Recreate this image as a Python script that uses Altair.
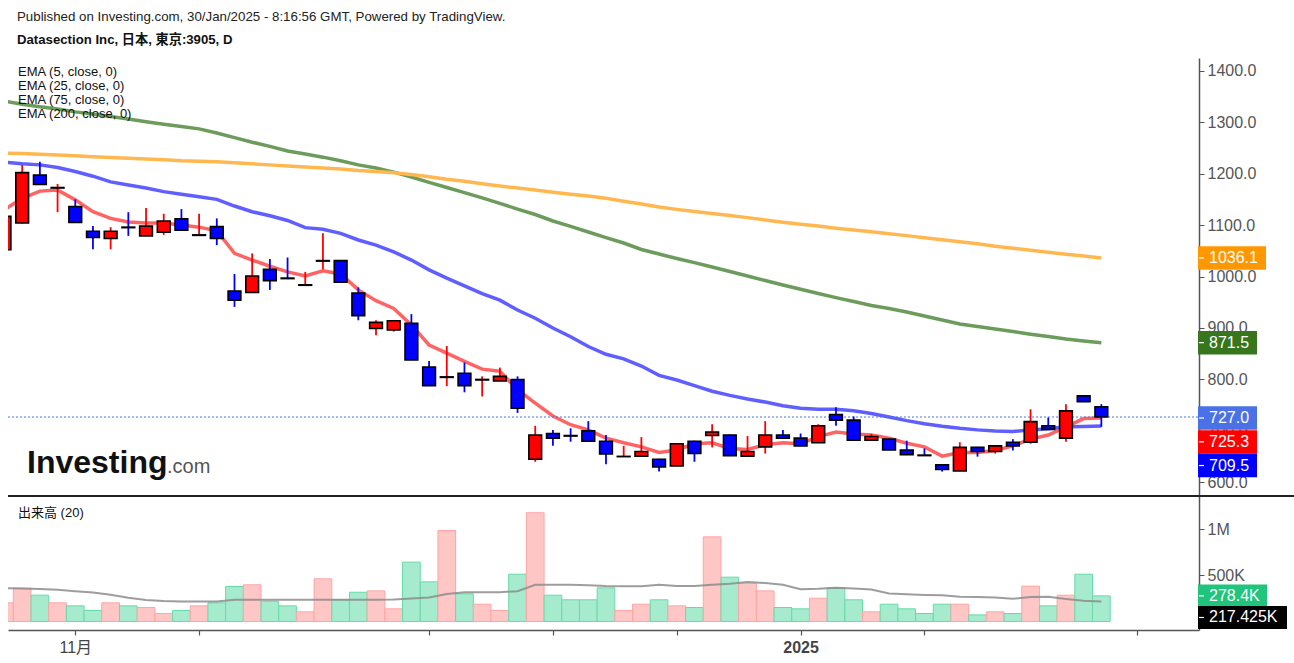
import altair as alt
import pandas as pd

# ---------------- data ----------------
opens = [1052, 1104, 1197, 1172, 1136, 1088, 1074, 1096, 1079, 1086,
         1112, 1080, 1097, 972, 969, 1014, 997, 983, 1030, 1031,
         968, 899, 896, 909, 824, 804, 812, 799, 797, 800,
         645, 695, 691, 700, 680, 650, 651, 645, 632, 680,
         691, 692, 651, 669, 692, 686, 677, 732, 721, 682,
         684, 663, 653, 634, 622, 668, 660, 678, 678, 710,
         686, 768, 747]
highs = [1125, 1217, 1223, 1180, 1150, 1098, 1096, 1125, 1133, 1122,
         1131, 1122, 1113, 1005, 1045, 1034, 1037, 1009, 1084, 1032,
         979, 915, 915, 927, 836, 865, 833, 806, 823, 806,
         710, 702, 705, 719, 692, 671, 688, 646, 676, 681,
         713, 693, 690, 719, 702, 695, 713, 746, 728, 694,
         685, 681, 666, 635, 678, 669, 672, 684, 742, 726,
         752, 768, 752]
lows = [1045, 1103, 1178, 1125, 1104, 1053, 1053, 1079, 1079, 1081,
        1089, 1080, 1061, 941, 968, 974, 995, 983, 1014, 988,
        915, 886, 893, 838, 788, 787, 775, 767, 797, 735,
        640, 671, 679, 680, 635, 650, 651, 621, 631, 640,
        668, 651, 651, 656, 686, 671, 677, 710, 682, 682,
        663, 654, 652, 621, 622, 650, 656, 662, 675, 703,
        679, 757, 708]
closes = [1117, 1202, 1179, 1173, 1105, 1076, 1088, 1095, 1098, 1108,
          1090, 1081, 1074, 954, 1001, 992, 996, 984, 1031, 989,
          924, 911, 914, 838, 788, 805, 788, 800, 806, 744,
          692, 686, 690, 680, 655, 650.5, 660, 630, 675, 656,
          698, 652, 660, 692, 686, 671, 710, 721, 682, 689,
          663, 654, 652, 625, 668, 660, 671, 671, 718, 703,
          739, 757, 727]

ema5 = [1130, 1152, 1166, 1168, 1149, 1126, 1113, 1106, 1104, 1104,
        1100, 1096, 1089, 1045, 1032, 1020, 1009, 1001, 1011, 1005,
        974, 953, 938, 906, 867, 851, 835, 820, 816, 780,
        754, 729, 712, 702, 686, 677, 669, 658, 663, 675,
        677, 666, 664, 673, 677, 675, 689, 698, 694, 692,
        686, 676, 669, 651, 658, 658, 662, 671, 684, 692,
        708, 724, 725.3]
ema25 = [1222, 1219, 1217, 1212, 1204, 1195, 1184, 1178, 1172, 1165,
         1160, 1155, 1150, 1137, 1126, 1118, 1109, 1095, 1092, 1084,
         1071, 1061, 1048, 1032, 1013, 997, 982, 967, 954, 935,
         919, 900, 883, 864, 849, 840, 826, 808, 799, 788,
         777, 769, 762, 756, 749, 744, 742, 742, 739, 734,
         727, 720, 714, 709, 705, 702, 700, 699, 702, 704,
         708, 708.5, 709.5]
ema75 = [1341, 1335, 1330, 1325.6, 1320, 1316, 1311, 1306, 1301, 1296,
         1291.5, 1287, 1279, 1270, 1261, 1253, 1244, 1238, 1232, 1225,
         1217, 1211, 1203, 1193.5, 1183, 1173, 1163, 1153, 1142.3, 1131,
         1120.5, 1108, 1097.6, 1086.6, 1075.5, 1065.2, 1052.6, 1043.8, 1035, 1027,
         1018.5, 1009.8, 1001, 992.3, 983.5, 975.2, 967, 959, 951.5, 943.7,
         938, 931, 923.3, 915.5, 907.8, 903, 898, 893, 888, 883.5,
         878.6, 874.7, 871.5]
ema200 = [1240, 1239, 1237.5, 1236, 1234.5, 1233, 1231.5, 1230, 1228.5, 1227,
          1225, 1224, 1223, 1221, 1219, 1217, 1215, 1213, 1211, 1209,
          1206, 1204, 1201.5, 1198.5, 1194, 1189, 1185, 1180.5, 1176, 1172,
          1168, 1164, 1160, 1156.5, 1152, 1146.5, 1141, 1135, 1130.5, 1126.5,
          1122.5, 1118.5, 1114.5, 1110, 1105.5, 1101.5, 1098, 1094, 1090.5, 1087,
          1083, 1079.5, 1075.5, 1071.5, 1067.5, 1063.5, 1059, 1055, 1051, 1047,
          1043.5, 1040, 1036.1]

volumes_k = [203, 362, 286, 203, 170, 120, 203, 170, 152, 87,
             120, 170, 203, 380, 399, 221, 170, 105, 464, 236,
             318, 333, 138, 645, 431, 989, 301, 188, 120, 514,
             1182, 286, 236, 236, 366, 120, 188, 236, 170, 152,
             920, 482, 416, 333, 152, 138, 253, 366, 236, 105,
             188, 138, 87, 188, 188, 72, 105, 87, 384, 170,
             286, 514, 278.4]
vol_ma_k = [362, 360, 352, 345, 330, 315, 290, 258, 235, 222,
            217, 217, 218, 236, 236, 236, 236, 236, 236, 236,
            236, 236, 240, 250, 262, 300, 318, 318, 318, 330,
            400, 400, 400, 395, 385, 384, 384, 400, 385, 385,
            400, 410, 430, 418, 400, 350, 355, 366, 360, 348,
            305, 295, 288, 285, 270, 265, 262, 248, 265, 268,
            245, 225, 217.425]

x_tick_positions = [4, 11, 24, 31, 38, 45, 52, 64]
x_tick_labels = {4: "11月", 45: "2025"}
price_ticks = [600, 700, 800, 900, 1000, 1100, 1200, 1300, 1400]
vol_ticks = [500000, 1000000]

ema_names = ["EMA (5, close, 0)", "EMA (25, close, 0)", "EMA (75, close, 0)", "EMA (200, close, 0)"]
ema_colors = ["#FF6464", "#5F5FFF", "#6C9C5C", "#FFB84F"]

price_label_values = [1036.1, 871.5, 727.0, 725.3, 709.5]
price_label_texts = ["1036.1", "871.5", "727.0", "725.3", "709.5"]
vol_label_values = [278400, 217425]
vol_label_texts = ["278.4K", "217.425K"]

header1 = "Published on Investing.com, 30/Jan/2025 - 8:16:56 GMT, Powered by TradingView."
header2 = "Datasection Inc, 日本, 東京:3905, D"
vol_title = "出来高 (20)"

# ---------------- styles ----------------
FONT = "Liberation Sans, Arial, Noto Sans CJK JP, sans-serif"
W, H = 1191, 572
PRICE_H = 438
price_label_colors = ["#FF9800", "#38761D", "#4A72E6", "#FF0000", "#0000FF"]
price_label_widths = [68, 59, 59, 59, 59]
price_label_offsets = [0, 0, 1, 24, 39.5]
vol_label_colors = ["#20C47C", "#000000"]
vol_label_widths = [69, 89]
vol_label_offsets = [0, 16]

n = len(opens)
idx = list(range(n))
df = pd.DataFrame({"i": idx, "open": opens, "high": highs, "low": lows,
                   "close": closes,
                   "vol": [v * 1000 for v in volumes_k],
                   "volma": [v * 1000 for v in vol_ma_k]})
df["up"] = df["close"] >= df["open"]
df["ccol"] = df["up"].map({True: "#FF0000", False: "#0000FF"})
df["vfill"] = df["up"].map({True: "#FFC6C6", False: "#A6EBCE"})
df["vstroke"] = df["up"].map({True: "#FFA5A5", False: "#68DAA8"})
df["x0"] = df["i"] - 0.36
df["x1"] = df["i"] + 0.36
df["b0"] = df["i"] - 0.5
df["b1"] = df["i"] + 0.5
df["zero"] = 0

ema_df = pd.concat([
    pd.DataFrame({"i": idx, "v": vals, "s": name})
    for name, vals in zip(ema_names, [ema5, ema25, ema75, ema200])
])

xscale = alt.Scale(domain=[0.198, 67.52], nice=False, zero=False)
price_scale = alt.Scale(domain=[573.5, 1424.7], range=[PRICE_H, 0], nice=False, zero=False)
vol_scale = alt.Scale(domain=[-92400, 1364100], range=[H, PRICE_H], nice=False, zero=False)

label_expr = " : ".join(
    [f"datum.value == {k} ? '{v}'" for k, v in x_tick_labels.items()]) + " : ''"
x_axis = alt.Axis(values=x_tick_positions, labelExpr=label_expr, title=None, grid=False,
                  domainColor="#555555", domainWidth=1.5, tickColor="#555555", tickSize=5,
                  tickWidth=1.2, labelFontSize=16, labelColor="#444444", labelFont=FONT,
                  labelPadding=4, labelFlush=False, zindex=0,
                  labelFontWeight={"condition": {"test": "datum.value == 45", "value": "bold"},
                                   "value": "normal"})
price_axis = alt.Axis(values=price_ticks, format=".1f", orient="right", title=None, grid=False,
                      domainColor="#555555", domainWidth=1.5, tickColor="#555555", tickSize=5,
                      labelFontSize=16, labelColor="#555555", labelFont=FONT, labelPadding=3,
                      zindex=0)
vol_axis = alt.Axis(values=vol_ticks, orient="right", title=None, grid=False,
                    labelExpr="datum.value >= 1000000 ? format(datum.value/1000000, 'd') + 'M' : format(datum.value/1000, 'd') + 'K'",
                    domainColor="#555555", domainWidth=1.5, tickColor="#555555", tickSize=5,
                    labelFontSize=16, labelColor="#555555", labelFont=FONT, labelPadding=3,
                    zindex=0)


def PX(f):
    return alt.X(f, type="quantitative", scale=xscale, axis=x_axis)


def PY(f):
    return alt.Y(f, type="quantitative", scale=price_scale, axis=price_axis)


def VY(f):
    return alt.Y(f, type="quantitative", scale=vol_scale, axis=vol_axis)


base = alt.Chart(df)

ema_lines = alt.Chart(ema_df).mark_line(strokeWidth=3.5, clip=True).encode(
    x=PX("i"), y=PY("v"),
    color=alt.Color("s:N", scale=alt.Scale(domain=ema_names, range=ema_colors), legend=None),
    detail="s:N")

last_line = alt.Chart(pd.DataFrame({"v": [closes[-1]]})).mark_rule(
    color="#4A72E6", strokeDash=[2, 2], strokeWidth=1).encode(
    x=alt.value(0), x2=alt.value(W), y=PY("v"))

wicks = base.mark_rule(strokeWidth=1.8, clip=True).encode(
    x=PX("i"), y=PY("low"), y2="high", color=alt.Color("ccol:N", scale=None))

bodies = base.mark_rect(stroke="#000000", strokeWidth=1.6, clip=True).encode(
    x=PX("x0"), x2="x1", y=PY("open"), y2="close", fill=alt.Fill("ccol:N", scale=None))

layers_price = [ema_lines, last_line, wicks, bodies]

for v, t, c, w, off in zip(price_label_values, price_label_texts, price_label_colors,
                           price_label_widths, price_label_offsets):
    d = pd.DataFrame({"v": [v], "t": [t]})
    layers_price.append(alt.Chart(d).mark_rule(color=c, strokeWidth=23.5, strokeCap="butt",
                                               yOffset=off).encode(
        x=alt.value(W - 1), x2=alt.value(W - 1 + w), y=PY("v")))
    layers_price.append(alt.Chart(d).mark_rule(color="#FFFFFF", strokeWidth=1.2,
                                               yOffset=off).encode(
        x=alt.value(W), x2=alt.value(W + 5), y=PY("v")))
    layers_price.append(alt.Chart(d).mark_text(align="left", baseline="middle", fontSize=16,
                                               font=FONT, color="#FFFFFF", yOffset=off).encode(
        x=alt.value(W + 10), y=PY("v"), text="t:N"))

# header and legend texts
layers_price.append(alt.Chart(pd.DataFrame({"t": [header1]})).mark_text(
    align="left", baseline="middle", fontSize=13.3, font=FONT, color="#222222").encode(
    x=alt.value(9), y=alt.value(-41), text="t:N"))
layers_price.append(alt.Chart(pd.DataFrame({"t": [header2]})).mark_text(
    align="left", baseline="middle", fontSize=13.2, font=FONT, fontWeight="bold",
    color="#111111").encode(x=alt.value(9), y=alt.value(-18), text="t:N"))
for k, name in enumerate(ema_names):
    layers_price.append(alt.Chart(pd.DataFrame({"t": [name]})).mark_text(
        align="left", baseline="middle", fontSize=13, font=FONT, color="#111111").encode(
        x=alt.value(10), y=alt.value(14 + 14 * k), text="t:N"))

# logo
layers_price.append(alt.Chart(pd.DataFrame({"t": ["Investing"]})).mark_text(
    align="left", baseline="alphabetic", fontSize=32, font=FONT, fontWeight="bold",
    color="#111111").encode(x=alt.value(19), y=alt.value(415), text="t:N"))
layers_price.append(alt.Chart(pd.DataFrame({"t": [".com"]})).mark_text(
    align="left", baseline="alphabetic", fontSize=20, font=FONT,
    color="#555555").encode(x=alt.value(159), y=alt.value(415), text="t:N"))

price_group = alt.layer(*layers_price)

# volume panel
vbars = base.mark_rect(strokeWidth=1, clip=True).encode(
    x=PX("b0"), x2="b1", y=VY("vol"), y2="zero",
    fill=alt.Fill("vfill:N", scale=None), stroke=alt.Stroke("vstroke:N", scale=None))
vma = base.mark_line(color="#8C8C8C", strokeWidth=2, opacity=0.85, clip=True).encode(
    x=PX("i"), y=VY("volma"))
sep = alt.Chart(pd.DataFrame({"a": [0]})).mark_rule(color="#222222", strokeWidth=2.2).encode(
    x=alt.value(0), x2=alt.value(1286), y=alt.value(PRICE_H))

layers_vol = [vbars, vma, sep]
for v, t, c, w, off in zip(vol_label_values, vol_label_texts, vol_label_colors,
                           vol_label_widths, vol_label_offsets):
    d = pd.DataFrame({"v": [v], "t": [t]})
    layers_vol.append(alt.Chart(d).mark_rule(color=c, strokeWidth=23, strokeCap="butt",
                                             yOffset=off).encode(
        x=alt.value(W - 1), x2=alt.value(W - 1 + w), y=VY("v")))
    layers_vol.append(alt.Chart(d).mark_rule(color="#FFFFFF", strokeWidth=1.2,
                                             yOffset=off).encode(
        x=alt.value(W), x2=alt.value(W + 5), y=VY("v")))
    layers_vol.append(alt.Chart(d).mark_text(align="left", baseline="middle", fontSize=16,
                                             font=FONT, color="#FFFFFF", yOffset=off).encode(
        x=alt.value(W + 10), y=VY("v"), text="t:N"))
layers_vol.append(alt.Chart(pd.DataFrame({"t": [vol_title]})).mark_text(
    align="left", baseline="middle", fontSize=13, font=FONT, color="#111111").encode(
    x=alt.value(10), y=alt.value(PRICE_H + 17), text="t:N"))

vol_group = alt.layer(*layers_vol)

chart = alt.layer(price_group, vol_group).resolve_scale(y="independent").properties(
    width=W, height=H,
    autosize=alt.AutoSizeParams(type="none"),
    padding={"left": 8, "top": 58, "right": 95, "bottom": 33},
    background="#FFFFFF",
).configure_view(stroke="transparent")

chart.save("out.html", embed_options={"renderer": "svg", "actions": False})
